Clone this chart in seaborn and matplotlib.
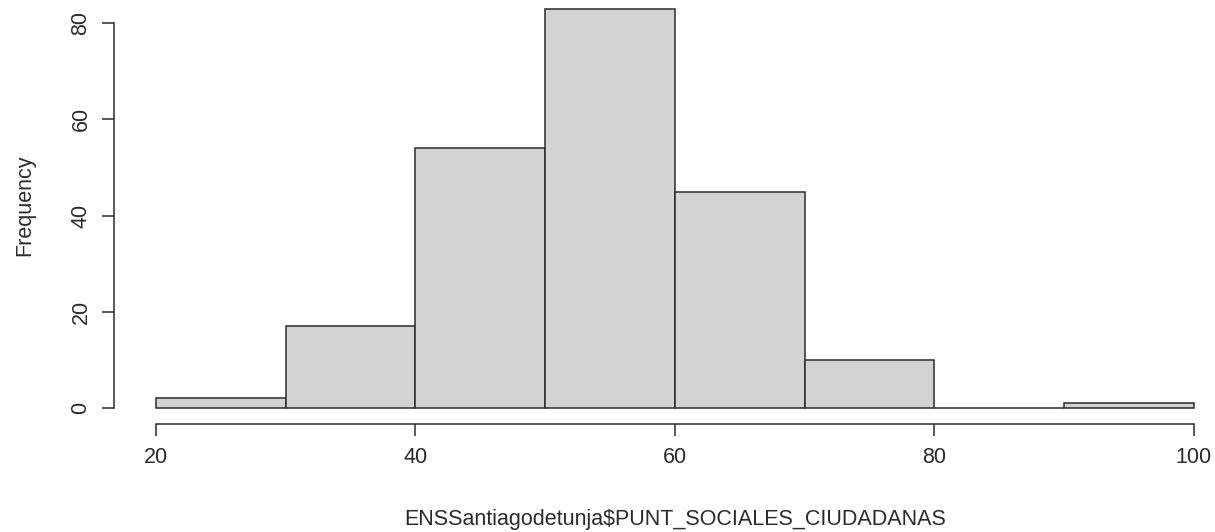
import numpy as np
import matplotlib
matplotlib.use('Agg')
import matplotlib.pyplot as plt
import seaborn as sns

# Histogram counts (bins of width 10)
bin_edges = [20, 30, 40, 50, 60, 70, 80, 90, 100]
counts = [2, 17, 54, 83, 45, 10, 0, 1]
x_ticks = [20, 40, 60, 80, 100]
y_ticks = [0, 20, 40, 60, 80]
x_label = 'ENSSantiagodetunja$PUNT_SOCIALES_CIUDADANAS'
y_label = 'Frequency'

sns.set_style('white')
plt.rcParams['font.family'] = ['Liberation Sans', 'DejaVu Sans']

ink = '#2b2b2b'
fs = 15.5

fig = plt.figure(figsize=(12.15, 5.32), dpi=100)
ax = fig.add_axes([0.0942, 0.203, 0.9226, 0.8105])

edges = np.array(bin_edges, dtype=float)
mids = (edges[:-1] + edges[1:]) / 2
sns.histplot(x=mids, weights=counts, bins=bin_edges, ax=ax,
             color='#d3d3d3', edgecolor=ink, linewidth=1.1, alpha=1)

# R-like extents: 4% padding on each side
xr = edges[-1] - edges[0]
ax.set_xlim(edges[0] - 0.04 * xr, edges[-1] + 0.04 * xr)
ymax = max(counts)
ax.set_ylim(-0.04 * ymax, ymax * 1.04)

for s in ['top', 'right']:
    ax.spines[s].set_visible(False)
for s in ['left', 'bottom']:
    ax.spines[s].set_color(ink)
    ax.spines[s].set_linewidth(1.1)
ax.spines['left'].set_bounds(y_ticks[0], y_ticks[-1])
ax.spines['bottom'].set_bounds(x_ticks[0], x_ticks[-1])

ax.set_xticks(x_ticks)
ax.set_yticks(y_ticks)
ax.tick_params(axis='both', length=8.6, width=1.1, color=ink, labelcolor=ink,
               labelsize=fs, pad=8, direction='out', bottom=True, left=True)
for lab in ax.get_yticklabels():
    lab.set_rotation(90)
    lab.set_va('center')

ax.set_xlabel(x_label, fontsize=fs, color=ink, va='center')
ax.set_ylabel(y_label, fontsize=fs, color=ink, va='center', ha='center')
ax.xaxis.set_label_coords(0.5, -0.2226)
ax.yaxis.set_label_coords(-0.0798, 0.508)
ax.grid(False)

plt.savefig('out.png', dpi=100)
